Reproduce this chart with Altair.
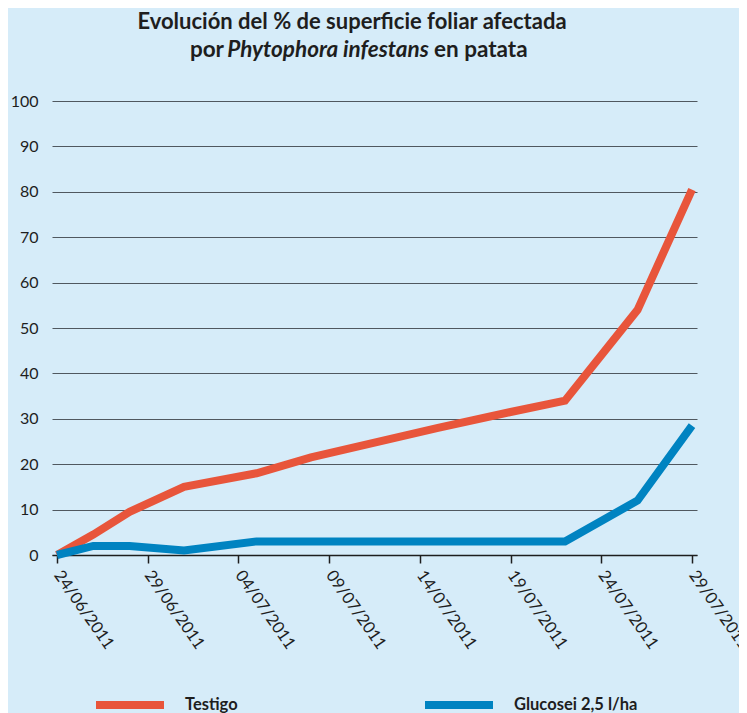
import altair as alt
import pandas as pd

# ---- data ----
dates = ["2011/06/24", "2011/06/26", "2011/06/28", "2011/07/01", "2011/07/05",
         "2011/07/08", "2011/07/15", "2011/07/19", "2011/07/22", "2011/07/26",
         "2011/07/29"]
testigo = [0, 4.5, 9.5, 15, 18, 21.5, 28, 31.5, 34, 54, 80.5]
glucosei = [0, 2, 2, 1, 3, 3, 3, 3, 3, 12, 28.5]
series = ["Testigo", "Glucosei 2,5 l/ha"]
y_ticks = list(range(0, 101, 10))
x_ticks = [(2011, 6, 24), (2011, 6, 29), (2011, 7, 4), (2011, 7, 9),
           (2011, 7, 14), (2011, 7, 19), (2011, 7, 24), (2011, 7, 29)]
title1 = "Evolución del % de superficie foliar afectada"
title2 = ["por", "Phytophora infestans", "en patata"]

RED = "#E8553B"
BLUE = "#0083C1"
BG = "#D6ECF9"
INK = "#1e1e1e"
FONT = "Lato"

rows = []
for s, vals in zip(series, [testigo, glucosei]):
    for d, v in zip(dates, vals):
        rows.append({"fecha": d, "valor": v, "serie": s})
df = pd.DataFrame(rows)

def dt(t):
    return alt.DateTime(year=t[0], month=t[1], date=t[2])

lines = alt.Chart(df).mark_line(strokeWidth=8, strokeCap="butt", strokeJoin="miter").encode(
    x=alt.X("fecha:T",
            scale=alt.Scale(domain=[dt(x_ticks[0]), dt(x_ticks[-1])], padding=5, nice=False),
            axis=alt.Axis(values=[dt(t) for t in x_ticks], format="%d/%m/%Y",
                          labelAngle=55, labelAlign="left", labelBaseline="middle",
                          labelFlush=False, labelOverlap=False, labelPadding=9,
                          labelFontSize=16.5, labelColor=INK, labelFont=FONT,
                          tickSize=8, tickColor=INK, tickWidth=1.5,
                          domainColor=INK, domainWidth=1.5, grid=False, title=None)),
    y=alt.Y("valor:Q",
            scale=alt.Scale(domain=[0, 100], nice=False),
            axis=alt.Axis(values=y_ticks, grid=True, gridColor="#505860", gridWidth=1.2,
                          domain=False, ticks=False, labelPadding=14,
                          labelFontSize=16, labelColor=INK, labelFont=FONT, title=None)),
    color=alt.Color("serie:N", sort=series,
                    scale=alt.Scale(domain=series, range=[RED, BLUE]),
                    legend=alt.Legend(orient="none", legendX=40, legendY=566,
                                      direction="horizontal", title=None,
                                      symbolType="stroke", symbolSize=4624,
                                      symbolStrokeWidth=8, labelFontSize=16.5,
                                      labelFontWeight="bold", labelFont=FONT,
                                      labelColor=INK, labelOffset=17,
                                      columnPadding=171)),
    order=alt.Order("serie:N", sort="descending"),
)

t1 = alt.Chart(pd.DataFrame({"t": [title1]})).mark_text(
    font=FONT, fontSize=22, fontWeight="bold", align="center", baseline="alphabetic", color=INK
).encode(text="t:N", x=alt.value(300), y=alt.value(-72))

t2a = alt.Chart(pd.DataFrame({"t": [title2[0]]})).mark_text(
    font=FONT, fontSize=22.5, fontWeight="bold", align="right", baseline="alphabetic", color=INK
).encode(text="t:N", x=alt.value(172), y=alt.value(-44))

t2b = alt.Chart(pd.DataFrame({"t": [title2[1]]})).mark_text(
    font=FONT, fontSize=22.5, fontWeight="bold", fontStyle="italic", align="center",
    baseline="alphabetic", color=INK
).encode(text="t:N", x=alt.value(276), y=alt.value(-44))

t2c = alt.Chart(pd.DataFrame({"t": [title2[2]]})).mark_text(
    font=FONT, fontSize=22.5, fontWeight="bold", align="left", baseline="alphabetic", color=INK
).encode(text="t:N", x=alt.value(382), y=alt.value(-44))

chart = alt.layer(lines, t1, t2a, t2b, t2c).properties(
    width=645, height=454,
    padding={"left": 44, "top": 93, "right": 42, "bottom": 158},
    autosize=alt.AutoSizeParams(type="none"),
    background=BG,
).configure_view(stroke=None)

chart.save("out.html", embed_options={"renderer": "svg", "actions": False})
